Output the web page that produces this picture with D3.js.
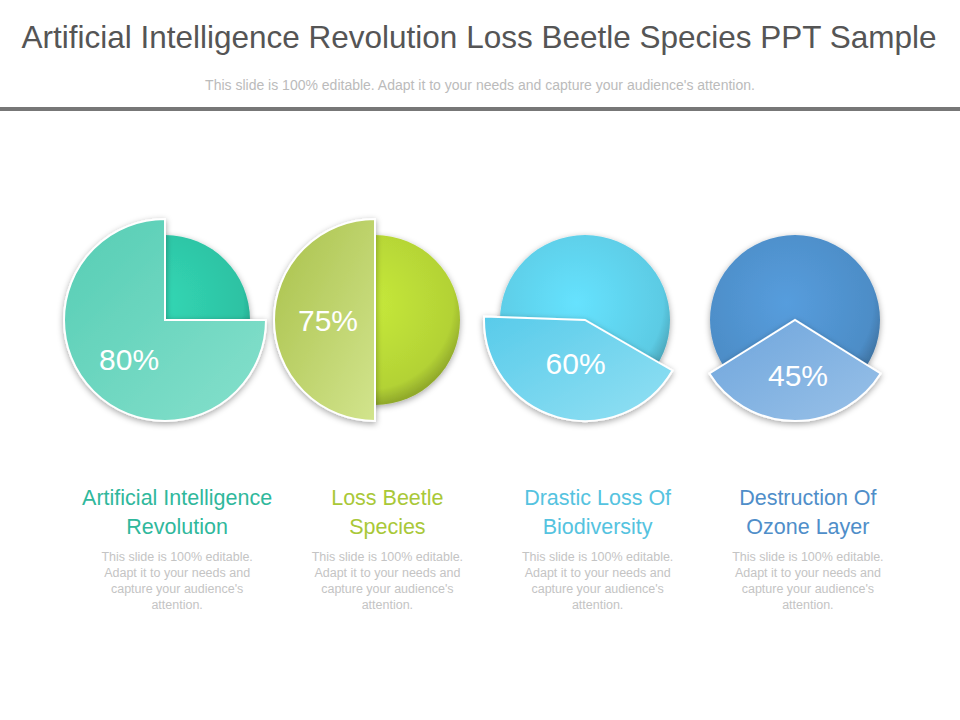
<!DOCTYPE html>
<html lang="en">
<head>
<meta charset="UTF-8"/>
<script src="https://d3js.org/d3.v7.min.js"></script>
<style>
  body { margin: 0; background: #fff; font-family: Arial, "Liberation Sans", sans-serif; }
</style>
</head>
<body>
<svg id="chart" width="960" height="720"></svg>
<script>
    const labels = ["80%", "75%", "60%", "45%"];
    const titles = [["Artificial Intelligence", "Revolution"], ["Loss Beetle", "Species"], ["Drastic Loss Of", "Biodiversity"], ["Destruction Of", "Ozone Layer"]];
    // slice start / end angles in degrees (0 = 12 o'clock, clockwise)
    const sliceStart = [90, 180, 120, 122];
    const sliceEnd = [360, 360, 272, 238];
    const baseColors = ["#2dc2a3", "#b3d235", "#5ccbe4", "#4d8dc7"];
    const sliceColors = ["#55cdb4", "#a9c14a", "#58cbea", "#6ea5dc"];
    const sliceLight = ["#86e0cc", "#d2e48d", "#93e0f3", "#99c1e8"];
    const textColors = ["#2fb89c", "#a9c838", "#55c3e0", "#4f8ec9"];

    const svg = d3.select("#chart");
    const defs = svg.append("defs");
    const shadow = defs.append("filter").attr("id", "sh").attr("x", "-20%").attr("y", "-20%").attr("width", "140%").attr("height", "140%");
    shadow.append("feDropShadow").attr("dx", 0).attr("dy", 2).attr("stdDeviation", 3).attr("flood-opacity", 0.35);

    svg.append("text").attr("x", 479).attr("y", 48).attr("text-anchor", "middle")
        .style("font-size", "31.5px").style("fill", "#555").text("Artificial Intelligence Revolution Loss Beetle Species PPT Sample");
    svg.append("text").attr("x", 480).attr("y", 90).attr("text-anchor", "middle")
        .style("font-size", "14px").style("fill", "#bbb")
        .text("This slide is 100% editable. Adapt it to your needs and capture your audience's attention.");
    svg.append("rect").attr("x", 0).attr("y", 107).attr("width", 960).attr("height", 4).attr("fill", "#777");

    const x = d3.scaleBand().domain(d3.range(4)).range([60, 900]);
    const tx = d3.scaleBand().domain(d3.range(4)).range([72, 913]);
    const cy = 320;

    labels.forEach((lab, i) => {
        const cx = x(i) + x.bandwidth() / 2;
        const tcx = tx(i) + tx.bandwidth() / 2;
        const g = svg.append("g").attr("transform", `translate(${cx},${cy})`);

        const rg = defs.append("radialGradient").attr("id", "b" + i).attr("cx", "45%").attr("cy", "40%").attr("r", "60%");
        rg.append("stop").attr("offset", "0%").attr("stop-color", d3.color(baseColors[i]).brighter(0.3));
        rg.append("stop").attr("offset", "85%").attr("stop-color", baseColors[i]);
        rg.append("stop").attr("offset", "100%").attr("stop-color", d3.color(baseColors[i]).darker(0.6));
        g.append("circle").attr("r", 85).attr("fill", `url(#b${i})`).attr("filter", "url(#sh)");

        const lg = defs.append("linearGradient").attr("id", "s" + i).attr("x1", "0%").attr("y1", "0%").attr("x2", "100%").attr("y2", "100%");
        lg.append("stop").attr("offset", "0%").attr("stop-color", sliceColors[i]);
        lg.append("stop").attr("offset", "100%").attr("stop-color", sliceLight[i]);
        const arc = d3.arc().innerRadius(0).outerRadius(101)
            .startAngle(sliceStart[i] * Math.PI / 180).endAngle(sliceEnd[i] * Math.PI / 180);
        g.append("path").attr("d", arc()).attr("fill", `url(#s${i})`)
            .attr("stroke", "#fff").attr("stroke-width", 2).attr("filter", "url(#sh)");

        const mid = (sliceStart[i] + sliceEnd[i]) / 2 * Math.PI / 180;
        const rr = [55, 50, 45, 55][i];
        g.append("text").attr("x", Math.sin(mid) * rr + 3).attr("y", -Math.cos(mid) * rr + 11)
            .attr("text-anchor", "middle").style("font-size", "30px").style("fill", "#fff").text(lab);

        titles[i].forEach((t, j) => {
            svg.append("text").attr("x", tcx).attr("y", 505 + j * 29).attr("text-anchor", "middle")
                .style("font-size", "21.5px").style("fill", textColors[i]).text(t);
        });
        ["This slide is 100% editable.", "Adapt it to your needs and", "capture your audience's", "attention."].forEach((t, j) => {
            svg.append("text").attr("x", tcx).attr("y", 561 + j * 16).attr("text-anchor", "middle")
                .style("font-size", "12.5px").style("fill", "#c4c4c4").text(t);
        });
    });
</script>
</body>
</html>
